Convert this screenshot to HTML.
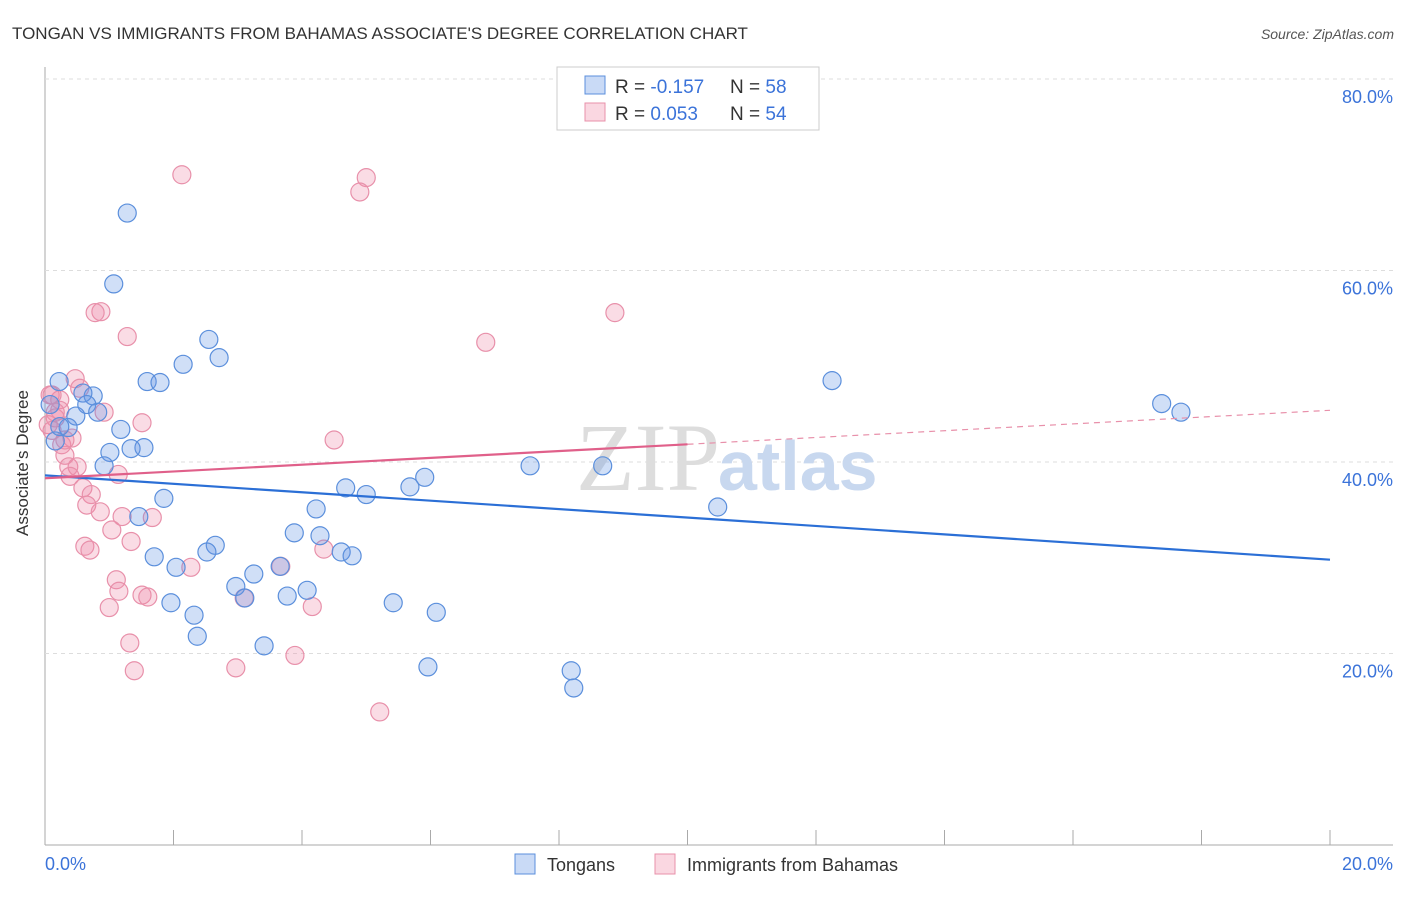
<!DOCTYPE html>
<html><head><meta charset="utf-8"><style>
body{margin:0;background:#fff;font-family:"Liberation Sans",sans-serif}
</style></head><body>
<svg width="1406" height="892" xmlns="http://www.w3.org/2000/svg" font-family="Liberation Sans, sans-serif">
<text x="12" y="39" font-size="17" fill="#333">TONGAN VS IMMIGRANTS FROM BAHAMAS ASSOCIATE'S DEGREE CORRELATION CHART</text>
<text x="1394" y="39" font-size="14" fill="#555" font-style="italic" text-anchor="end">Source: ZipAtlas.com</text>
<g id="grid"></g>
<text x="720" y="490" font-size="96" fill="#ddd" text-anchor="end" font-family="Liberation Serif, serif">ZIP</text>
<text x="718" y="490" font-size="70" fill="#c8d8ef" font-weight="bold">atlas</text>
<g id="pts"></g>
<g id="trend"></g>
<text x="20" y="455" font-size="17" fill="#333" text-anchor="middle" transform="rotate(-90 28 455)">Associate's Degree</text>
<g>
<rect x="557" y="67" width="262" height="63" fill="#fff" stroke="#ccc"/>
<rect x="585" y="76" width="20" height="18" fill="rgba(100,150,230,0.35)" stroke="#5b8fdc"/>
<rect x="585" y="103" width="20" height="18" fill="rgba(240,140,170,0.35)" stroke="#e890aa"/>
<text x="615" y="93" font-size="19" fill="#333">R = <tspan fill="#3b73d9">-0.157</tspan><tspan x="730">N = </tspan><tspan fill="#3b73d9">58</tspan></text>
<text x="615" y="120" font-size="19" fill="#333">R = <tspan fill="#3b73d9"> 0.053</tspan><tspan x="730">N = </tspan><tspan fill="#3b73d9">54</tspan></text>
</g>
<g>
<rect x="515" y="854" width="20" height="20" fill="rgba(100,150,230,0.35)" stroke="#5b8fdc"/>
<text x="547" y="871" font-size="18" fill="#333">Tongans</text>
<rect x="655" y="854" width="20" height="20" fill="rgba(240,140,170,0.35)" stroke="#e890aa"/>
<text x="687" y="871" font-size="18" fill="#333">Immigrants from Bahamas</text>
</g>
</svg>
<script>
const blueX=[1.28,1.07,2.55,2.71,2.15,1.59,1.79,0.22,0.75,0.59,0.65,0.82,0.48,0.36,1.18,1.54,1.34,1.01,0.92,0.16,1.85,1.46,1.70,2.04,2.65,2.52,1.96,2.32,2.37,2.97,3.25,3.11,3.41,3.66,3.77,3.88,4.08,4.22,4.28,4.68,5.00,4.61,4.78,5.68,5.91,5.42,6.09,5.96,7.55,8.68,8.19,8.23,10.47,12.25,17.38,17.68,0.23,0.08];
const blueY=[66.0,58.6,52.8,50.9,50.2,48.4,48.3,48.4,46.9,47.2,46.0,45.2,44.8,43.6,43.4,41.5,41.4,41.0,39.6,42.2,36.2,34.3,30.1,29.0,31.3,30.6,25.3,24.0,21.8,27.0,28.3,25.8,20.8,29.1,26.0,32.6,26.6,35.1,32.3,37.3,36.6,30.6,30.2,37.4,38.4,25.3,24.3,18.6,39.6,39.6,18.2,16.4,35.3,48.5,46.1,45.2,43.7,46.0];
const pinkX=[2.13,5.00,4.90,0.87,0.78,1.28,8.87,6.86,0.47,0.54,0.23,0.08,0.23,0.92,0.16,0.05,0.42,0.26,0.31,1.51,4.50,0.37,0.50,1.14,0.39,0.59,0.72,0.65,0.86,1.20,1.67,1.04,1.34,0.62,0.70,4.34,2.27,3.67,1.11,1.15,1.51,1.60,3.10,1.00,4.16,1.32,3.89,1.39,2.97,5.21,0.11,0.16,0.31,0.11];
const pinkY=[70.0,69.7,68.2,55.7,55.6,53.1,55.6,52.5,48.7,47.7,46.5,47.0,45.4,45.2,44.6,43.9,42.5,41.8,40.7,44.1,42.3,39.5,39.5,38.7,38.5,37.3,36.6,35.5,34.8,34.3,34.2,32.9,31.7,31.2,30.8,30.9,29.0,29.1,27.7,26.5,26.1,25.9,25.8,24.8,24.9,21.1,19.8,18.2,18.5,13.9,43.3,45.2,42.3,47.0];
const blueTrend=[38.6,29.8];
const pinkTrend=[38.3,45.4];
const yTicks=[20,40,60,80];
const NS="http://www.w3.org/2000/svg";
const sx=v=>45+v/20*1285;
const sy=v=>845-v/20*191.5;
function mk(t,a,p){const e=document.createElementNS(NS,t);for(const k in a)e.setAttribute(k,a[k]);p.appendChild(e);return e;}
const grid=document.getElementById('grid');
let ax=mk('line',{x1:45,y1:67,x2:45,y2:845,stroke:'#aaa'},grid);


let bx=mk('line',{x1:45,y1:845,x2:1393,y2:845,stroke:'#aaa'},grid);


yTicks.forEach(t=>{
 const g=mk('line',{x1:45,y1:sy(t),x2:1393,y2:sy(t),stroke:'#ddd','stroke-dasharray':'4,4'},grid);
 
 
 const l=mk('text',{x:1393,y:sy(t)+24,'font-size':18,fill:'#3b73d9','text-anchor':'end'},grid);
 l.textContent=t.toFixed(1)+'%';
 
 
});
for(let i=0;i<=10;i++){
 const tk=mk('line',{x1:sx(i*2),y1:830,x2:sx(i*2),y2:845,stroke:'#aaa'},grid);
 
 
}
const xl=mk('text',{x:45,y:870,'font-size':18,fill:'#3b73d9'},grid);xl.textContent='0.0%';


const xr=mk('text',{x:1393,y:870,'font-size':18,fill:'#3b73d9','text-anchor':'end'},grid);xr.textContent='20.0%';


const pts=document.getElementById('pts');
pinkX.forEach((x,i)=>{
 const c=mk('circle',{cx:sx(x),cy:sy(pinkY[i]),r:9,fill:'rgba(240,140,170,0.3)',stroke:'#e890aa','stroke-width':1.2},pts);
 
 
});
blueX.forEach((x,i)=>{
 const c=mk('circle',{cx:sx(x),cy:sy(blueY[i]),r:9,fill:'rgba(100,150,230,0.3)',stroke:'#5b8fdc','stroke-width':1.2},pts);
 
 
});
const tr=document.getElementById('trend');
const bt=mk('line',{x1:sx(0),y1:sy(blueTrend[0]),x2:sx(20),y2:sy(blueTrend[1]),stroke:'#2b6fd6','stroke-width':2.2},tr);


const pm=pinkTrend[0]+(pinkTrend[1]-pinkTrend[0])*0.5;
const pt=mk('line',{x1:sx(0),y1:sy(pinkTrend[0]),x2:sx(10),y2:sy(pm),stroke:'#e0608a','stroke-width':2.2},tr);


const pd=mk('line',{x1:sx(10),y1:sy(pm),x2:sx(20),y2:sy(pinkTrend[1]),stroke:'#e890aa','stroke-width':1.2,'stroke-dasharray':'6,5'},tr);


</script>
</body></html>
